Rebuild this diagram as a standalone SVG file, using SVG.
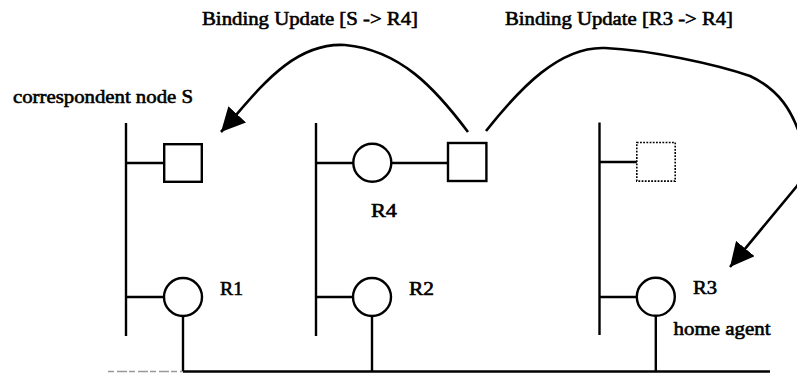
<svg xmlns="http://www.w3.org/2000/svg" width="797" height="373" viewBox="0 0 797 373">
<style>
.t{font-family:"Liberation Serif","Times New Roman",serif;font-size:19px;fill:#000;stroke:#000;stroke-width:0.6}
.ln{stroke:#000;stroke-width:2.4;fill:none;stroke-linecap:butt}
.nd{stroke:#000;stroke-width:2.4;fill:#fff}
.dot{stroke:#000;stroke-width:1.6;fill:#fff;stroke-dasharray:1.8 1.4}
.arr{stroke:#000;stroke-width:2.6;fill:none;marker-end:url(#ah)}
</style>
<defs>
<marker id="ah" markerUnits="userSpaceOnUse" markerWidth="24" markerHeight="24" refX="22" refY="11" orient="auto" viewBox="0 0 22 22">
<path d="M0,0 L22,11 L0,22 z" fill="#000"/>
</marker>
</defs>
<rect width="797" height="373" fill="#fff"/>

<g id="labels">
<text class="t" x="202" y="25" textLength="216" lengthAdjust="spacingAndGlyphs">Binding Update [S -&gt; R4]</text>
<text class="t" x="505" y="25" textLength="228" lengthAdjust="spacingAndGlyphs">Binding Update [R3 -&gt; R4]</text>
<text class="t" x="13" y="103" textLength="180" lengthAdjust="spacingAndGlyphs">correspondent node S</text>
</g>

<g id="backbone">
<line class="ln" x1="183" y1="371.5" x2="770" y2="371.5"/>
<line x1="108" y1="371.5" x2="183" y2="371.5" stroke="#999" stroke-width="1.4" stroke-dasharray="6 3 10 2"/>
</g>

<g id="net-S">
<line class="ln" x1="126" y1="123" x2="126" y2="336"/>
<line class="ln" x1="126" y1="163" x2="164" y2="163"/>
<line class="ln" x1="126" y1="297" x2="164" y2="297"/>
</g>
<g id="node-S">
<rect class="nd" x="164.2" y="144.2" width="37.6" height="37.6"/>
</g>
<g id="node-R1">
<line class="ln" x1="183" y1="316" x2="183" y2="371"/>
<circle class="nd" cx="183" cy="297" r="19"/>
<text class="t" x="220" y="295" textLength="23" lengthAdjust="spacingAndGlyphs">R1</text>
</g>

<g id="net-mid">
<line class="ln" x1="316" y1="123" x2="316" y2="336"/>
<line class="ln" x1="316" y1="163" x2="353" y2="163"/>
<line class="ln" x1="316" y1="297" x2="353" y2="297"/>
<line class="ln" x1="391" y1="163" x2="448" y2="163"/>
</g>
<g id="node-R4">
<circle class="nd" cx="372.3" cy="162.7" r="19"/>
<text class="t" x="371" y="217" textLength="26" lengthAdjust="spacingAndGlyphs">R4</text>
</g>
<g id="node-MN">
<rect class="nd" x="448" y="143" width="38.4" height="38"/>
</g>
<g id="node-R2">
<line class="ln" x1="372" y1="316" x2="372" y2="371"/>
<circle class="nd" cx="372" cy="297" r="19"/>
<text class="t" x="409" y="295" textLength="25" lengthAdjust="spacingAndGlyphs">R2</text>
</g>

<g id="net-home">
<line class="ln" x1="599.5" y1="122.5" x2="599.5" y2="335"/>
<line class="ln" x1="599.5" y1="162" x2="637" y2="162"/>
<line class="ln" x1="599.5" y1="297" x2="637" y2="297"/>
</g>
<g id="node-old">
<rect class="dot" x="636.8" y="142.5" width="38.4" height="38.6"/>
</g>
<g id="node-R3">
<line class="ln" x1="655.8" y1="316" x2="655.8" y2="371"/>
<circle class="nd" cx="655.8" cy="296.8" r="19"/>
<text class="t" x="693" y="294" textLength="24" lengthAdjust="spacingAndGlyphs">R3</text>
<text class="t" x="673.5" y="335" textLength="97" lengthAdjust="spacingAndGlyphs">home agent</text>
</g>

<g id="connectors">
<path class="arr" d="M468,132 C435,88 400,50 345,45 C290,42 255,95 221,132"/>
<path class="arr" d="M486,131 C520,88 560,46 605,48 C650,50 715,64 750,76 C780,90 792,112 800,135 C806,155 806,172 797,186 L730,267"/>
</g>
</svg>
